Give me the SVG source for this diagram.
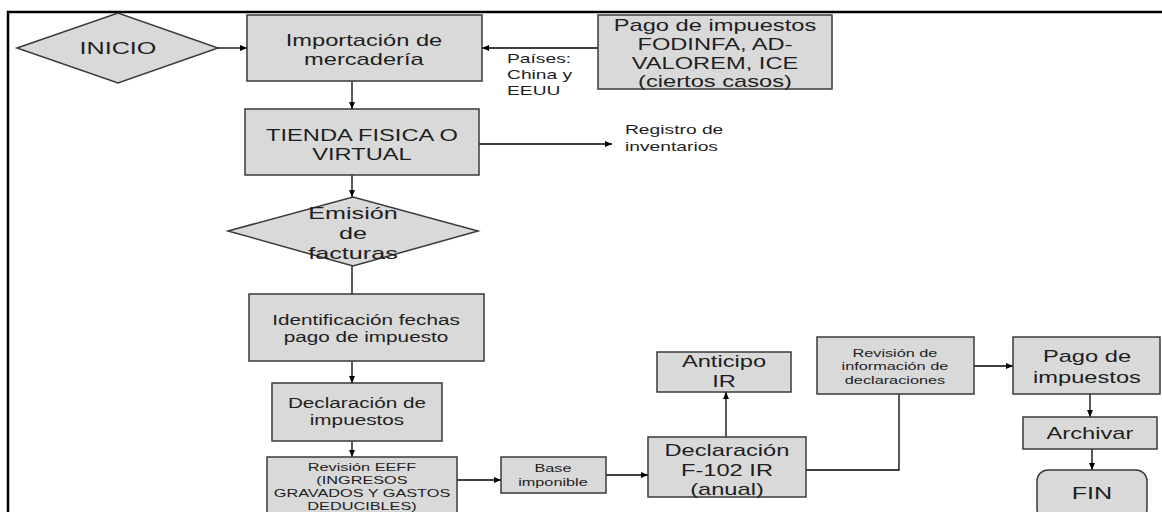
<svg xmlns="http://www.w3.org/2000/svg" width="1162" height="512" viewBox="0 0 1162 512">
<style>
.box{fill:#d9d9d9;stroke:#3a3a3a;stroke-width:1.5}
.c{fill:none;stroke:#000;stroke-width:1.3}
text{font-family:"Liberation Sans",Arial,sans-serif;fill:#1e1e1e;text-anchor:middle;transform-box:fill-box;transform-origin:center;transform:scaleX(1.48)}
.l{text-anchor:start;transform-origin:left center}
.f17{font-size:17px}.f16{font-size:16px}.f14{font-size:14px}.f13{font-size:13px}.f11{font-size:11px}
</style>
<defs>
<marker id="a" markerUnits="userSpaceOnUse" markerWidth="8" markerHeight="8" refX="7" refY="4" orient="auto">
<path d="M0,1 L7,4 L0,7 Z" fill="#000"/>
</marker>
</defs>
<rect width="1162" height="512" fill="#fff"/>
<path d="M8,512 V12 H1162" fill="none" stroke="#000" stroke-width="2.5"/>
<g id="connectors">
<line class="c" x1="218" y1="48" x2="247" y2="48" marker-end="url(#a)"/>
<line class="c" x1="598" y1="48" x2="482" y2="48" marker-end="url(#a)"/>
<line class="c" x1="352" y1="81" x2="352" y2="109" marker-end="url(#a)"/>
<line class="c" x1="479" y1="144" x2="612" y2="144" marker-end="url(#a)"/>
<line class="c" x1="352" y1="175" x2="352" y2="197" marker-end="url(#a)"/>
<line class="c" x1="352" y1="266" x2="352" y2="294"/>
<line class="c" x1="352" y1="361" x2="352" y2="383" marker-end="url(#a)"/>
<line class="c" x1="352" y1="441" x2="352" y2="457" marker-end="url(#a)"/>
<line class="c" x1="457" y1="480" x2="501" y2="480" marker-end="url(#a)"/>
<line class="c" x1="606" y1="475" x2="648" y2="475" marker-end="url(#a)"/>
<line class="c" x1="726" y1="437" x2="726" y2="392" marker-end="url(#a)"/>
<polyline class="c" points="806,470 899,470 899,394"/>
<line class="c" x1="974" y1="366" x2="1013" y2="366" marker-end="url(#a)"/>
<line class="c" x1="1090" y1="394" x2="1090" y2="417" marker-end="url(#a)"/>
<line class="c" x1="1092" y1="449" x2="1092" y2="470" marker-end="url(#a)"/>
</g>
<g id="inicio">
<polygon class="box" points="17,48 118,13 218,48 118,83"/>
<text class="f17" x="118" y="54">INICIO</text>
</g>
<g id="importacion">
<rect class="box" x="247" y="15" width="235" height="66"/>
<text class="f16" x="364" y="46">Importación de</text>
<text class="f16" x="364" y="65">mercadería</text>
</g>
<g id="pago-fodinfa">
<rect class="box" x="598" y="15" width="234" height="74"/>
<text class="f16" x="715" y="31">Pago de impuestos</text>
<text class="f16" x="715" y="50">FODINFA, AD-</text>
<text class="f16" x="715" y="69">VALOREM, ICE</text>
<text class="f16" x="715" y="87">(ciertos casos)</text>
</g>
<g id="paises">
<text class="f13 l" x="507" y="63">Países:</text>
<text class="f13 l" x="507" y="79">China y</text>
<text class="f13 l" x="507" y="95">EEUU</text>
</g>
<g id="tienda">
<rect class="box" x="245" y="109" width="234" height="66"/>
<text class="f16" x="362" y="141">TIENDA FISICA O</text>
<text class="f16" x="362" y="160">VIRTUAL</text>
</g>
<g id="registro">
<text class="f13 l" x="625" y="134">Registro de</text>
<text class="f13 l" x="625" y="151">inventarios</text>
</g>
<g id="emision">
<polygon class="box" points="228,231 353,197 478,231 353,266"/>
<text class="f17" x="353" y="219">Emisión</text>
<text class="f17" x="353" y="239">de</text>
<text class="f17" x="353" y="259">facturas</text>
</g>
<g id="identificacion">
<rect class="box" x="249" y="294" width="235" height="67"/>
<text class="f14" x="366" y="325">Identificación fechas</text>
<text class="f14" x="366" y="342">pago de impuesto</text>
</g>
<g id="declaracion">
<rect class="box" x="272" y="383" width="170" height="58"/>
<text class="f14" x="357" y="408">Declaración de</text>
<text class="f14" x="357" y="425">impuestos</text>
</g>
<g id="revision-eeff">
<rect class="box" x="267" y="457" width="190" height="60"/>
<text class="f11" x="362" y="471">Revisión EEFF</text>
<text class="f11" x="362" y="484">(INGRESOS</text>
<text class="f11" x="362" y="497">GRAVADOS Y GASTOS</text>
<text class="f11" x="362" y="510">DEDUCIBLES)</text>
</g>
<g id="base">
<rect class="box" x="501" y="457" width="105" height="36"/>
<text class="f11" x="553" y="472">Base</text>
<text class="f11" x="553" y="486">imponible</text>
</g>
<g id="f102">
<rect class="box" x="648" y="437" width="158" height="60"/>
<text class="f16" x="727" y="456">Declaración</text>
<text class="f16" x="727" y="476">F-102 IR</text>
<text class="f16" x="727" y="495">(anual)</text>
</g>
<g id="anticipo">
<rect class="box" x="657" y="352" width="134" height="40"/>
<text class="f16" x="724" y="367">Anticipo</text>
<text class="f16" x="724" y="387">IR</text>
</g>
<g id="revision-info">
<rect class="box" x="817" y="337" width="157" height="57"/>
<text class="f11" x="895" y="357">Revisión de</text>
<text class="f11" x="895" y="370">información de</text>
<text class="f11" x="895" y="384">declaraciones</text>
</g>
<g id="pago">
<rect class="box" x="1013" y="337" width="147" height="57"/>
<text class="f16" x="1087" y="362">Pago de</text>
<text class="f16" x="1087" y="383">impuestos</text>
</g>
<g id="archivar">
<rect class="box" x="1023" y="417" width="134" height="32"/>
<text class="f16" x="1090" y="439">Archivar</text>
</g>
<g id="fin">
<rect class="box" x="1037" y="470" width="110" height="50" rx="11"/>
<text class="f17" x="1092" y="499">FIN</text>
</g>
</svg>
